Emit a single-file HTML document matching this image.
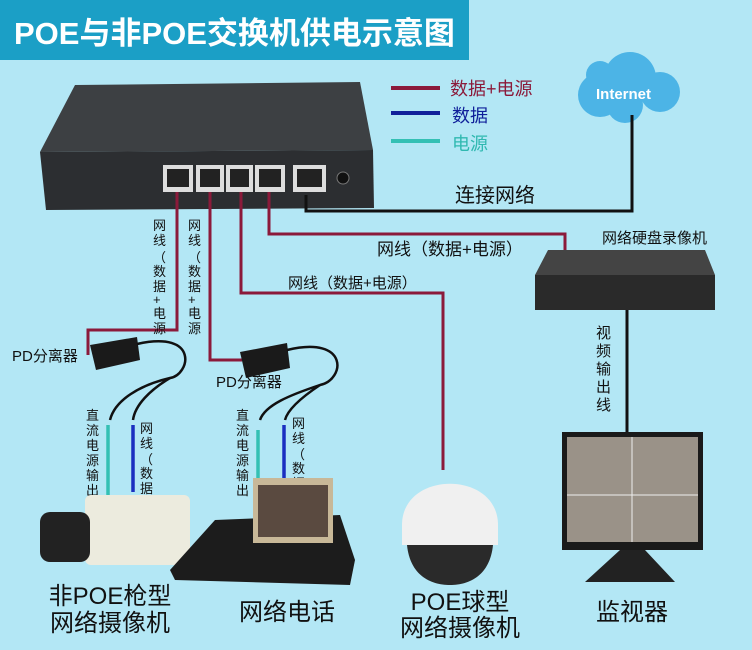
<!DOCTYPE html>
<html><head><meta charset="utf-8"><style>
html,body{margin:0;padding:0;background:#b3e7f5;}
svg{display:block;font-family:"Liberation Sans","Noto Sans CJK SC",sans-serif;}
</style></head><body>
<svg width="752" height="650" viewBox="0 0 752 650" xmlns="http://www.w3.org/2000/svg">
<rect width="752" height="650" fill="#b3e7f5"/>
<!-- title -->
<rect x="0" y="0" width="469" height="60" fill="#1b9fc6"/>
<text x="14" y="44" font-size="31" font-weight="bold" fill="#fff">POE与非POE交换机供电示意图</text>
<!-- switch -->
<polygon points="75,85 360,82 373,150 40,152" fill="#3d4043"/>
<polygon points="40,152 373,150 374,208 46,210" fill="#2c2e31"/>
<rect x="163" y="165" width="30" height="27" fill="#ddd"/><rect x="167" y="169" width="22" height="18" fill="#222"/>
<rect x="196" y="165" width="28" height="27" fill="#ddd"/><rect x="200" y="169" width="20" height="18" fill="#222"/>
<rect x="226" y="165" width="27" height="27" fill="#ddd"/><rect x="230" y="169" width="19" height="18" fill="#222"/>
<rect x="255" y="165" width="30" height="27" fill="#ddd"/><rect x="259" y="169" width="22" height="18" fill="#222"/>
<rect x="293" y="165" width="33" height="27" fill="#ddd"/><rect x="297" y="169" width="25" height="18" fill="#222"/>
<circle cx="343" cy="178" r="6" fill="#111" stroke="#777"/>
<!-- legend -->
<line x1="391" y1="88" x2="440" y2="88" stroke="#8b1a3a" stroke-width="4"/>
<line x1="391" y1="113" x2="440" y2="113" stroke="#10209a" stroke-width="4"/>
<line x1="391" y1="141" x2="440" y2="141" stroke="#34c0b4" stroke-width="4"/>
<text x="450" y="95" font-size="18" fill="#8b1a3a">数据+电源</text>
<text x="452" y="122" font-size="18" fill="#10209a">数据</text>
<text x="452" y="150" font-size="18" fill="#2fb8b0">电源</text>
<!-- cloud -->
<g fill="#4cb4e6"><circle cx="600" cy="95" r="22"/><circle cx="630" cy="78" r="26"/><circle cx="660" cy="92" r="20"/><circle cx="625" cy="105" r="18"/><circle cx="600" cy="75" r="14"/></g>
<text x="596" y="99" font-size="15" font-weight="bold" fill="#fff">Internet</text>
<!-- black network line -->
<polyline points="632,115 632,211 306,211 306,195" fill="none" stroke="#111" stroke-width="3"/>
<text x="455" y="202" font-size="20" fill="#111">连接网络</text>
<!-- red lines -->
<g fill="none" stroke="#8b1a3a" stroke-width="3">
<polyline points="269,192 269,234 565,234 565,252"/>
<polyline points="241,192 241,293 443,293 443,470"/>
<polyline points="177,192 177,330 88,330 88,355"/>
<polyline points="210,192 210,360 242,360"/>
</g>
<text x="377" y="255" font-size="17" fill="#111">网线（数据+电源）</text>
<text x="288" y="288" font-size="15" fill="#111">网线（数据+电源）</text>
<g font-size="13" fill="#111">
<text x="153" y="230">网</text><text x="153" y="245">线</text><text x="153" y="262">（</text><text x="153" y="276">数</text><text x="153" y="291">据</text><text x="153" y="304">+</text><text x="153" y="318">电</text><text x="153" y="333">源</text>
<text x="188" y="230">网</text><text x="188" y="245">线</text><text x="188" y="262">（</text><text x="188" y="276">数</text><text x="188" y="291">据</text><text x="188" y="304">+</text><text x="188" y="318">电</text><text x="188" y="333">源</text>
</g>
<!-- PD splitters -->
<polygon points="90,345 137,337 140,360 96,370" fill="#1a1a1a"/>
<polygon points="240,352 287,343 290,368 246,378" fill="#1a1a1a"/>
<text x="12" y="361" font-size="15" fill="#111">PD分离器</text>
<text x="216" y="387" font-size="15" fill="#111">PD分离器</text>
<g fill="none" stroke="#111" stroke-width="2.5">
<path d="M137,344 C200,330 190,375 170,378 C140,385 115,400 110,420"/>
<path d="M170,378 C150,390 135,405 133,420"/>
<path d="M287,350 C350,335 345,380 320,385 C290,395 265,405 260,420"/>
<path d="M320,385 C305,395 288,408 285,420"/>
</g>
<g stroke-width="3.5">
<line x1="108" y1="425" x2="108" y2="495" stroke="#34c0b4"/>
<line x1="133" y1="425" x2="133" y2="492" stroke="#1a2fc0"/>
<line x1="258" y1="430" x2="258" y2="482" stroke="#34c0b4"/>
<line x1="284" y1="425" x2="284" y2="478" stroke="#1a2fc0"/>
</g>
<g font-size="13" fill="#111">
<text x="86" y="420">直</text><text x="86" y="435">流</text><text x="86" y="450">电</text><text x="86" y="465">源</text><text x="86" y="480">输</text><text x="86" y="495">出</text>
<text x="140" y="433">网</text><text x="140" y="448">线</text><text x="140" y="464">（</text><text x="140" y="478">数</text><text x="140" y="493">据</text>
<text x="236" y="420">直</text><text x="236" y="435">流</text><text x="236" y="450">电</text><text x="236" y="465">源</text><text x="236" y="480">输</text><text x="236" y="495">出</text>
<text x="292" y="428">网</text><text x="292" y="443">线</text><text x="292" y="459">（</text><text x="292" y="473">数</text><text x="292" y="488">据</text>
</g>
<!-- gun camera -->
<rect x="85" y="495" width="105" height="70" rx="6" fill="#ecebde"/>
<rect x="40" y="512" width="50" height="50" rx="10" fill="#222"/>
<!-- phone -->
<polygon points="170,570 215,520 340,515 355,560 350,585 175,580" fill="#1c1c1c"/>
<rect x="253" y="478" width="80" height="65" fill="#c8b898"/>
<rect x="258" y="485" width="70" height="52" fill="#5a4a40"/>
<!-- dome -->
<path d="M402,525 C402,470 498,470 498,525 L498,545 L402,545 Z" fill="#f0f0f0"/>
<path d="M407,545 L493,545 C490,575 470,585 450,585 C430,585 410,575 407,545 Z" fill="#2a2a2a"/>
<!-- NVR -->
<polygon points="548,250 705,250 715,275 535,275" fill="#444"/>
<rect x="535" y="275" width="180" height="35" fill="#2a2a2a"/>
<text x="602" y="243" font-size="15" fill="#111">网络硬盘录像机</text>
<line x1="627" y1="310" x2="627" y2="432" stroke="#111" stroke-width="3"/>
<g font-size="15" fill="#111"><text x="596" y="338">视</text><text x="596" y="356">频</text><text x="596" y="374">输</text><text x="596" y="392">出</text><text x="596" y="410">线</text></g>
<!-- monitor -->
<rect x="562" y="432" width="141" height="118" fill="#1a1a1a"/>
<rect x="567" y="437" width="131" height="105" fill="#9a9288"/>
<line x1="632" y1="437" x2="632" y2="542" stroke="#eee"/><line x1="567" y1="495" x2="698" y2="495" stroke="#eee"/>
<polygon points="620,550 645,550 675,582 585,582" fill="#222"/>
<!-- bottom labels -->
<g font-size="24" fill="#111" text-anchor="middle">
<text x="110" y="604">非POE枪型</text><text x="110" y="631">网络摄像机</text>
<text x="287" y="620">网络电话</text>
<text x="460" y="610">POE球型</text><text x="460" y="636">网络摄像机</text>
<text x="632" y="620">监视器</text>
</g>
</svg>
</body></html>
